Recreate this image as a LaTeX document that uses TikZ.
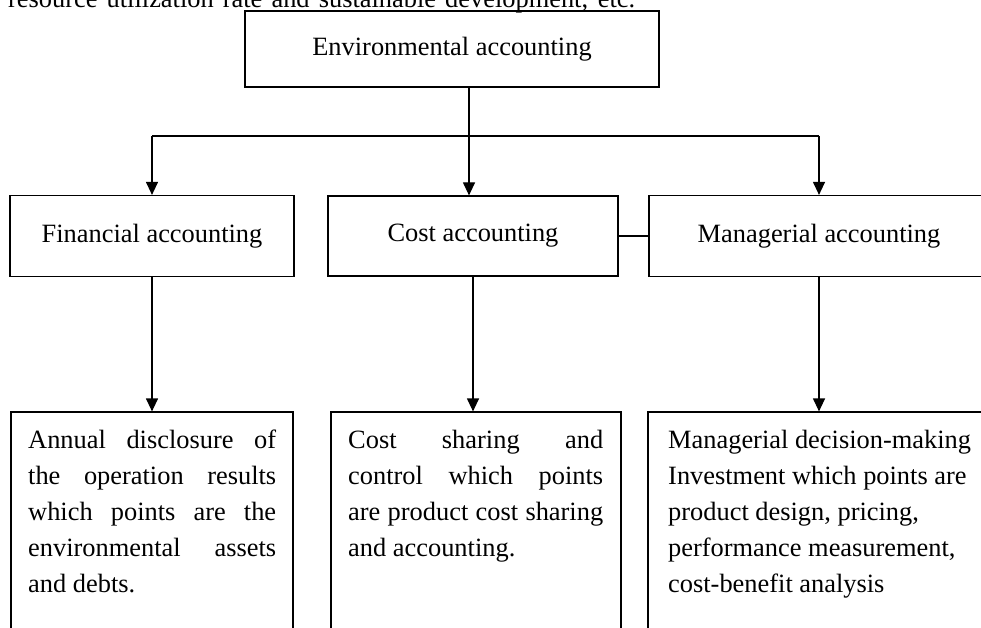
\documentclass[tikz,border=0pt]{standalone}
\usepackage{fontspec}
\setmainfont{Liberation Serif}
\usetikzlibrary{arrows.meta}
\newcommand{\jline}[1]{\makebox[\linewidth][s]{#1}}
\begin{document}
\begin{tikzpicture}[x=1pt,y=-1pt,
  box/.style={draw, line width=1.2pt, inner sep=0pt},
  lbl/.style={font=\fontsize{26.4}{32}\selectfont},
  arr/.style={line width=1.2pt, -{Triangle[width=12pt,length=13pt]}},
  ln/.style={line width=1.2pt},
  para/.style={inner sep=0pt, anchor=base west}]
\useasboundingbox (0,0) rectangle (981,628);
\clip (0,0) rectangle (981,628);
% cut-off text line at the top
\node[para, lbl] (toptext) at (8,8) {\makebox[627pt][s]{resource utilization rate and sustainable development, etc.}};
% boxes
\node[box, lbl, minimum width=414pt, minimum height=76pt] (env) at (452,49) {Environmental accounting};
\node[box, lbl, minimum width=284pt, minimum height=81pt] (fin) at (152,236) {Financial accounting};
\node[box, lbl, minimum width=290pt, minimum height=80pt] (cost) at (473,236) {Cost accounting};
\node[box, lbl, minimum width=340pt, minimum height=81pt] (man) at (819,236) {Managerial accounting};
\node[box, minimum width=282pt, minimum height=260pt] (finD) at (152,542) {};
\node[box, minimum width=290pt, minimum height=260pt] (costD) at (476,542) {};
\node[box, minimum width=342pt, minimum height=260pt] (manD) at (819,542) {};
% texts in the lower boxes
\node[para] (finT) at (28,448) {\parbox[t]{248pt}{\fontsize{26.4}{36}\selectfont
  \jline{Annual disclosure of}\\
  \jline{the operation results}\\
  \jline{which points are the}\\
  \jline{environmental assets}\\
  and debts.}};
\node[para] (costT) at (348,448) {\parbox[t]{255pt}{\fontsize{26.4}{36}\selectfont
  \jline{Cost sharing and}\\
  \jline{control which points}\\
  \jline{are product cost sharing}\\
  and accounting.}};
\node[para] (manT) at (668,448) {\parbox[t]{310pt}{\raggedright\fontsize{26.4}{36}\selectfont
  Managerial decision-making\\
  Investment which points are\\
  product design, pricing,\\
  performance measurement,\\
  cost-benefit analysis}};
% connectors
\coordinate (jL) at (152,136);
\coordinate (jM) at (469,136);
\coordinate (jR) at (819,136);
\draw[ln] (jM |- env.south) -- (jM);
\draw[ln] (jL) -- (jR);
\draw[arr] (jL) -- (jL |- fin.north);
\draw[arr] (jM) -- (jM |- cost.north);
\draw[arr] (jR) -- (jR |- man.north);
\draw[arr] (fin.south) -- (fin.south |- finD.north);
\draw[arr] (cost.south) -- (cost.south |- costD.north);
\draw[arr] (man.south) -- (man.south |- manD.north);
\draw[ln] (cost.east) -- (man.west);
\end{tikzpicture}
\end{document}
